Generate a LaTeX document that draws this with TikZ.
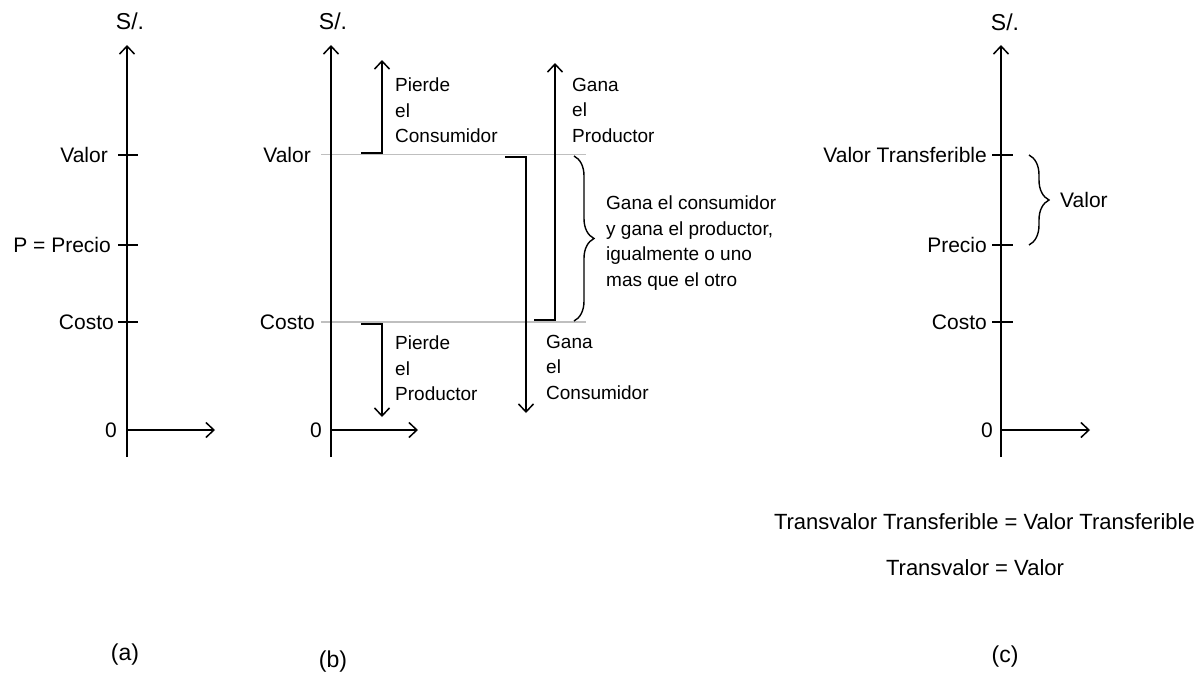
\documentclass[tikz,border=0pt]{standalone}
\usepackage{fontspec}
\setmainfont{Liberation Sans}
\usetikzlibrary{arrows.meta,decorations.pathreplacing}
\begin{document}
\begin{tikzpicture}[x=1pt,y=-1pt,
  axisline/.style={line width=1.8pt, black},
  tip/.style={-{Straight Barb[length=8pt,width=15pt,line width=1.5pt]}},
  tick/.style={line width=1.8pt, black},
  guide/.style={line width=1.6pt, black!25},
  bracket/.style={line width=1.8pt, black, line join=miter, tip},
  curly/.style={line width=1.4pt, black, decorate,
    decoration={brace, amplitude=20pt, aspect=0.5}},
  lab/.style={font=\fontsize{21}{25}\selectfont, inner sep=0pt},
  unit/.style={font=\fontsize{23}{27}\selectfont, inner sep=0pt},
  note/.style={font=\fontsize{19}{25.5}\selectfont, inner sep=0pt,
    align=left, anchor=north west},
  eqn/.style={font=\fontsize{22}{26}\selectfont, inner sep=0pt}
]
\useasboundingbox[fill=white] (0,0) rectangle (1197,675);

% ---------- panel (a) ----------
\coordinate (aB) at (127,457);
\coordinate (aT) at (127,45);
\coordinate (aO) at (127,430);
\coordinate (aX) at (215,430);
\draw[axisline] (aB) -- (aO);
\draw[axisline, tip] (aO) -- (aT);
\draw[axisline, tip] (aO) -- (aX);
\node[unit] (aS) at (130,21) {S/.};
\node[lab, anchor=east] (a0) at (117,430) {0};
\node[lab, anchor=east] (aVal) at (108,155) {Valor};
\node[lab, anchor=east] (aPre) at (111,245) {P = Precio};
\node[lab, anchor=east] (aCos) at (114,322) {Costo};
\coordinate (aV1) at (118,155); \coordinate (aV2) at (138,155);
\coordinate (aP1) at (118,245); \coordinate (aP2) at (138,245);
\coordinate (aC1) at (118,322); \coordinate (aC2) at (138,322);
\draw[tick] (aV1) -- (aV2);
\draw[tick] (aP1) -- (aP2);
\draw[tick] (aC1) -- (aC2);
\node[unit] (aName) at (125,655) {(a)};

% ---------- panel (b) ----------
\coordinate (bB) at (331,457);
\coordinate (bT) at (331,45);
\coordinate (bO) at (331,430);
\coordinate (bX) at (418,430);
% light guide lines at Valor and Costo
\coordinate (gV1) at (321,154.5); \coordinate (gV2) at (586,154.5);
\coordinate (gC1) at (321,322);   \coordinate (gC2) at (586,322);
\draw[guide] (gV1) -- (gV2);
\draw[guide] (gC1) -- (gC2);
\draw[axisline] (bB) -- (bO);
\draw[axisline, tip] (bO) -- (bT);
\draw[axisline, tip] (bO) -- (bX);
\node[unit] (bS) at (333,21) {S/.};
\node[lab, anchor=east] (b0) at (322,430) {0};
\node[lab, anchor=east] (bVal) at (311,155) {Valor};
\node[lab, anchor=east] (bCos) at (315,322) {Costo};

% Pierde el Consumidor
\coordinate (pc1) at (361,153); \coordinate (pc2) at (382,153);
\coordinate (pc3) at (382,60);
\draw[bracket] (pc1) -- (pc2) -- (pc3);
\node[note] (pcT) at (395,78) {Pierde\\el\\Consumidor};

% Pierde el Productor
\coordinate (pp1) at (361,324); \coordinate (pp2) at (382,324);
\coordinate (pp3) at (382,417);
\draw[bracket] (pp1) -- (pp2) -- (pp3);
\node[note] (ppT) at (395,336) {Pierde\\el\\Productor};

% Gana el Consumidor
\coordinate (gc1) at (505,157); \coordinate (gc2) at (526,157);
\coordinate (gc3) at (526,413);
\draw[bracket] (gc1) -- (gc2) -- (gc3);
\node[note] (gcT) at (546,335) {Gana\\el\\Consumidor};

% Gana el Productor
\coordinate (gp1) at (534,320); \coordinate (gp2) at (555,320);
\coordinate (gp3) at (555,63);
\draw[bracket] (gp1) -- (gp2) -- (gp3);
\node[note] (gpT) at (572,78) {Gana\\el\\Productor};

% shared gain
\coordinate (br1) at (574,156); \coordinate (br2) at (574,321);
\draw[curly] (br1) -- (br2);
\node[note] (brT) at (606,196)
  {Gana el consumidor\\y gana el productor,\\igualmente o uno\\mas que el otro};
\node[unit] (bName) at (333,662) {(b)};

% ---------- panel (c) ----------
\coordinate (cB) at (1001,457);
\coordinate (cT) at (1001,45);
\coordinate (cO) at (1001,430);
\coordinate (cX) at (1090,430);
\draw[axisline] (cB) -- (cO);
\draw[axisline, tip] (cO) -- (cT);
\draw[axisline, tip] (cO) -- (cX);
\node[unit] (cS) at (1005,22) {S/.};
\node[lab, anchor=east] (c0) at (993,430) {0};
\node[lab, anchor=east] (cVT) at (987,155) {Valor Transferible};
\node[lab, anchor=east] (cPre) at (987,245) {Precio};
\node[lab, anchor=east] (cCos) at (987,322) {Costo};
\coordinate (cV1) at (992,155); \coordinate (cV2) at (1013,155);
\coordinate (cP1) at (992,245); \coordinate (cP2) at (1013,245);
\coordinate (cC1) at (992,322); \coordinate (cC2) at (1013,322);
\draw[tick] (cV1) -- (cV2);
\draw[tick] (cP1) -- (cP2);
\draw[tick] (cC1) -- (cC2);
\coordinate (cb1) at (1029,155); \coordinate (cb2) at (1029,245);
\draw[curly] (cb1) -- (cb2);
\node[lab, anchor=west] (cValor) at (1060,200) {Valor};

\node[eqn, anchor=east] (eq1) at (1195,522)
  {Transvalor Transferible = Valor Transferible};
\node[eqn] (eq2) at (975,568) {Transvalor = Valor};
\node[unit] (cName) at (1005,657) {(c)};
\end{tikzpicture}
\end{document}
